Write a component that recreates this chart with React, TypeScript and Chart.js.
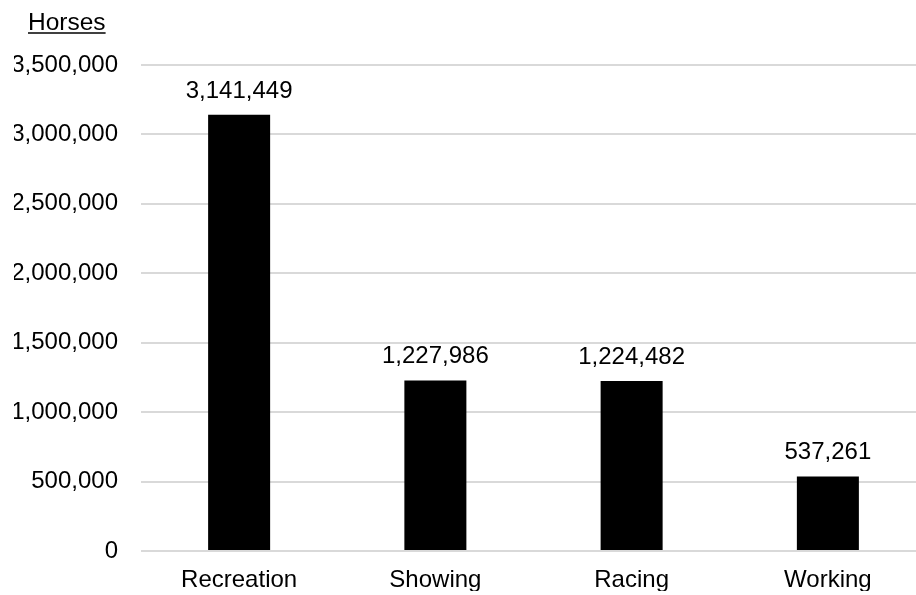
import React, { useEffect, useRef } from "react";
import { Chart, registerables } from "chart.js";

Chart.register(...registerables);

const categories = ["Recreation", "Showing", "Racing", "Working"];
const horses = [3141449, 1227986, 1224482, 537261];
const axisTitle = "Horses";
const yMax = 3500000;
const yStep = 500000;

const FONT = '"Liberation Sans", Arial, Helvetica, sans-serif';

const fmt = (v: number) => v.toLocaleString("en-US");

const labelPlugin = {
  id: "valueLabels",
  afterDatasetsDraw(chart: any) {
    const ctx = chart.ctx;
    const meta = chart.getDatasetMeta(0);
    ctx.save();
    ctx.font = `24px ${FONT}`;
    ctx.fillStyle = "#000";
    ctx.textAlign = "center";
    ctx.textBaseline = "alphabetic";
    meta.data.forEach((bar: any, i: number) => {
      ctx.fillText(fmt(horses[i]), bar.x, bar.y - 17);
    });
    ctx.restore();
  },
};

const titlePlugin = {
  id: "underlinedTitle",
  afterDraw(chart: any) {
    const ctx = chart.ctx;
    ctx.save();
    ctx.font = `24.5px ${FONT}`;
    ctx.fillStyle = "#000";
    ctx.textAlign = "left";
    ctx.textBaseline = "alphabetic";
    const x = 28;
    const y = 30;
    ctx.fillText(axisTitle, x, y);
    const w = ctx.measureText(axisTitle).width;
    ctx.strokeStyle = "#000";
    ctx.lineWidth = 1.5;
    ctx.beginPath();
    ctx.moveTo(x, y + 3);
    ctx.lineTo(x + w, y + 3);
    ctx.stroke();
    ctx.restore();
  },
};

export default function App() {
  const ref = useRef<HTMLCanvasElement>(null);
  useEffect(() => {
    if (!ref.current) return;
    const chart = new Chart(ref.current, {
      type: "bar",
      data: {
        labels: categories,
        datasets: [
          {
            data: horses,
            backgroundColor: "#000000",
            borderWidth: 0,
            barPercentage: 0.316,
            categoryPercentage: 1,
          },
        ],
      },
      options: {
        animation: false,
        responsive: true,
        maintainAspectRatio: false,
        layout: { padding: { top: 65, left: 14, right: 0, bottom: 4 } },
        plugins: {
          legend: { display: false },
          tooltip: { enabled: false },
          title: { display: false },
        },
        scales: {
          x: {
            grid: { display: false, drawTicks: false },
            border: { display: false },
            ticks: {
              color: "#000",
              font: { family: FONT, size: 24 },
              padding: 15,
            },
            afterFit: (scale: any) => {
              scale.height = 40;
            },
          },
          y: {
            min: 0,
            max: yMax,
            grid: { color: "#d9d9d9", lineWidth: 2, drawTicks: false },
            border: { display: false },
            ticks: {
              stepSize: yStep,
              color: "#000",
              font: { family: FONT, size: 24 },
              padding: 23,
              callback: (v: any) => fmt(Number(v)),
            },
            afterFit: (scale: any) => {
              scale.width = 127;
            },
          },
        },
      },
      plugins: [labelPlugin, titlePlugin],
    });
    return () => chart.destroy();
  }, []);
  return (
    <div
      style={{
        position: "absolute",
        left: 0,
        top: 0,
        width: 916,
        height: 595,
        overflow: "hidden",
        background: "#fff",
      }}
    >
      <div style={{ position: "relative", width: 926, height: 595 }}>
        <canvas ref={ref} />
      </div>
    </div>
  );
}
